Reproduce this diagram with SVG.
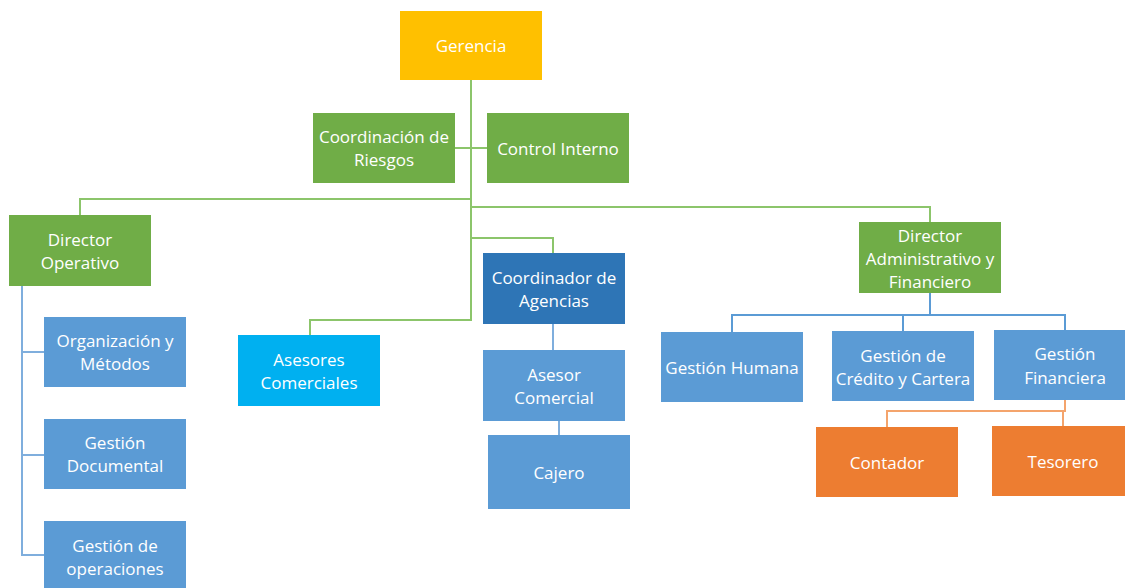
<svg xmlns="http://www.w3.org/2000/svg" width="1125" height="588" viewBox="0 0 1125 588">
<style>
.t{font-family:"Open Sans","Liberation Sans",Arial,sans-serif;font-size:17px;fill:#fff;text-anchor:middle;dominant-baseline:central}
.g{fill:#70AD47}.b{fill:#5B9BD5}.y{fill:#FFC000}.o{fill:#ED7D31}.db{fill:#2E75B6}.cy{fill:#00B0F0}
.lg{stroke:#8CC56B;stroke-width:2;fill:none}
.lb{stroke:#7FAEDD;stroke-width:2;fill:none}
.lb2{stroke:#5B9BD5;stroke-width:2;fill:none}
.lo{stroke:#F4A46C;stroke-width:2;fill:none}
</style>
<rect width="1125" height="588" fill="#fff"/>
<g id="connectors">
<path class="lg" d="M471 80V320H310V335"/>
<path class="lg" d="M455 148H487"/>
<path class="lg" d="M471 199H80V215"/>
<path class="lg" d="M471 207H930V222"/>
<path class="lg" d="M471 238H553V253"/>
<path class="lb" d="M22 286V555H44M22 352H44M22 455H44"/>
<path class="lb" d="M553 324V350M559 421V435"/>
<path class="lb2" d="M930 293V315M732 332V315H1065V330M903 315V331"/>
<path class="lo" d="M1065 400V411H887V427M1063 411V426"/>
</g>
<g id="gerencia"><rect class="y" x="400" y="11" width="142" height="69"/><text class="t" x="471" y="45">Gerencia</text></g>
<g id="coord-riesgos"><rect class="g" x="313" y="113" width="142" height="70"/><text class="t" x="384" y="136">Coordinación de</text><text class="t" x="384" y="159">Riesgos</text></g>
<g id="control-interno"><rect class="g" x="487" y="113" width="142" height="70"/><text class="t" x="558" y="148">Control Interno</text></g>
<g id="director-operativo"><rect class="g" x="9" y="215" width="142" height="71"/><text class="t" x="80" y="239">Director</text><text class="t" x="80" y="262">Operativo</text></g>
<g id="director-admin"><rect class="g" x="859" y="222" width="142" height="71"/><text class="t" x="930" y="235">Director</text><text class="t" x="930" y="258">Administrativo y</text><text class="t" x="930" y="281">Financiero</text></g>
<g id="coord-agencias"><rect class="db" x="483" y="253" width="142" height="71"/><text class="t" x="554" y="277">Coordinador de</text><text class="t" x="554" y="300">Agencias</text></g>
<g id="asesores-comerciales"><rect class="cy" x="238" y="335" width="142" height="71"/><text class="t" x="309" y="359">Asesores</text><text class="t" x="309" y="382">Comerciales</text></g>
<g id="asesor-comercial"><rect class="b" x="483" y="350" width="142" height="71"/><text class="t" x="554" y="374">Asesor</text><text class="t" x="554" y="397">Comercial</text></g>
<g id="cajero"><rect class="b" x="488" y="435" width="142" height="74"/><text class="t" x="559" y="472">Cajero</text></g>
<g id="organizacion"><rect class="b" x="44" y="317" width="142" height="70"/><text class="t" x="115" y="340">Organización y</text><text class="t" x="115" y="363">Métodos</text></g>
<g id="gestion-documental"><rect class="b" x="44" y="419" width="142" height="70"/><text class="t" x="115" y="442">Gestión</text><text class="t" x="115" y="465">Documental</text></g>
<g id="gestion-operaciones"><rect class="b" x="44" y="521" width="142" height="67"/><text class="t" x="115" y="545">Gestión de</text><text class="t" x="115" y="568">operaciones</text></g>
<g id="gestion-humana"><rect class="b" x="661" y="332" width="142" height="70"/><text class="t" x="732" y="367">Gestión Humana</text></g>
<g id="gestion-credito"><rect class="b" x="832" y="331" width="142" height="70"/><text class="t" x="903" y="355">Gestión de</text><text class="t" x="903" y="378">Crédito y Cartera</text></g>
<g id="gestion-financiera"><rect class="b" x="994" y="330" width="142" height="70"/><text class="t" x="1065" y="353">Gestión</text><text class="t" x="1065" y="377">Financiera</text></g>
<g id="contador"><rect class="o" x="816" y="427" width="142" height="70"/><text class="t" x="887" y="462">Contador</text></g>
<g id="tesorero"><rect class="o" x="992" y="426" width="142" height="70"/><text class="t" x="1063" y="461">Tesorero</text></g>
</svg>
